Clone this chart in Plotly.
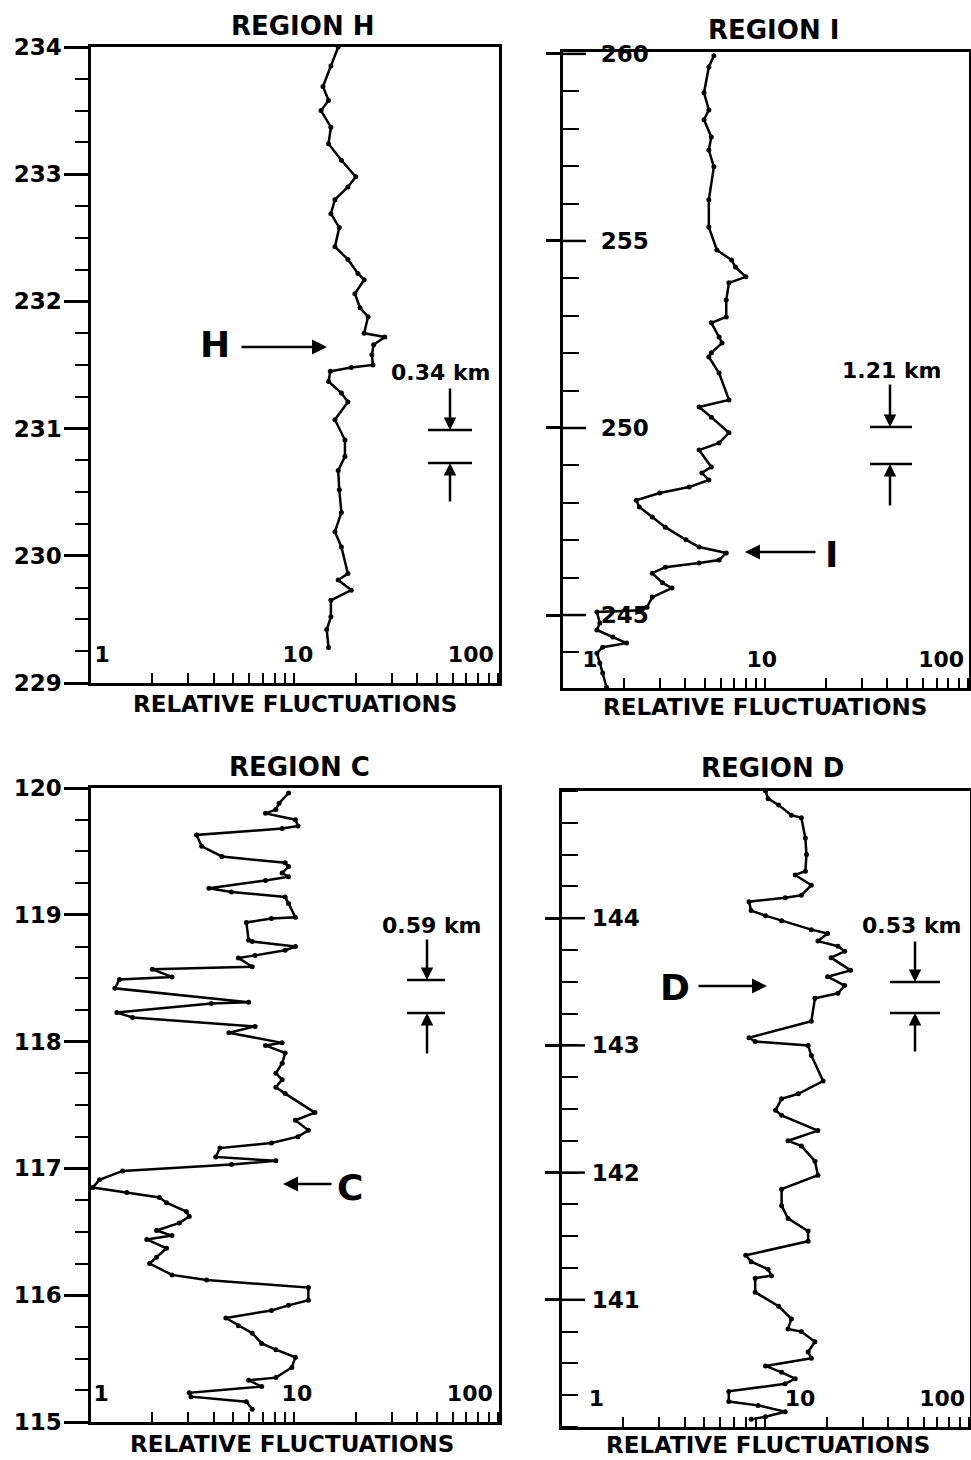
import plotly.graph_objects as go

# ---------------- data ----------------
h_depth = [234.00, 233.85, 233.69, 233.58, 233.50, 233.37, 233.24, 233.11, 232.98, 232.90,
           232.80, 232.69, 232.58, 232.43, 232.33, 232.22, 232.17, 232.06, 231.95, 231.88,
           231.75, 231.72, 231.66, 231.58, 231.50, 231.48, 231.45, 231.37, 231.28, 231.21,
           231.07, 230.91, 230.78, 230.67, 230.52, 230.34, 230.19, 230.07, 229.86, 229.81,
           229.73, 229.65, 229.52, 229.42, 229.28]
h_fluct = [16.4, 15.1, 13.8, 14.7, 13.5, 15.1, 14.7, 17.0, 20.0, 18.3,
           15.8, 15.1, 16.6, 15.8, 18.3, 20.5, 22.0, 19.8, 21.0, 23.0,
           22.0, 27.8, 24.5, 24.0, 24.3, 19.0, 15.0, 14.7, 17.0, 18.3,
           15.8, 17.7, 17.7, 16.4, 16.6, 17.0, 15.8, 17.0, 18.3, 16.4,
           19.0, 15.1, 15.1, 14.4, 14.7]

i_depth = [259.95, 259.65, 258.96, 258.50, 258.24, 257.78, 257.43, 256.98, 256.10, 255.37,
           254.76, 254.49, 254.30, 254.04, 253.88, 253.42, 252.97, 252.81, 252.43, 252.27,
           252.01, 251.90, 251.47, 250.75, 250.56, 250.29, 249.87, 249.60, 249.41, 248.96,
           248.80, 248.61, 248.42, 248.26, 248.07, 247.89, 247.62, 247.35, 247.01, 246.82,
           246.66, 246.47, 246.39, 246.28, 246.12, 245.86, 245.72, 245.48, 245.21, 245.13,
           245.08, 244.79, 244.60, 244.41, 244.25, 244.14, 243.98, 243.72, 243.45, 243.07]
i_fluct = [5.56, 5.25, 4.97, 5.25, 4.97, 5.40, 5.25, 5.56, 5.25, 5.25,
           5.75, 6.80, 7.10, 8.00, 6.60, 6.40, 6.40, 5.40, 5.90, 6.10,
           5.40, 5.25, 5.90, 6.60, 4.70, 5.40, 6.60, 5.90, 4.70, 5.40,
           4.85, 5.25, 4.20, 3.00, 2.30, 2.38, 2.76, 3.20, 4.05, 4.70,
           6.40, 5.90, 4.70, 3.20, 2.76, 3.10, 3.45, 2.76, 2.60, 2.45,
           1.47, 1.52, 1.47, 1.76, 2.06, 1.57, 1.47, 1.52, 1.57, 1.64]

c_depth = [119.96, 119.88, 119.83, 119.80, 119.75, 119.70, 119.68, 119.63, 119.54, 119.46,
           119.41, 119.38, 119.33, 119.30, 119.27, 119.21, 119.18, 119.14, 119.09, 118.98,
           118.97, 118.94, 118.80, 118.79, 118.75, 118.72, 118.68, 118.66, 118.59, 118.57,
           118.51, 118.49, 118.42, 118.31, 118.30, 118.23, 118.19, 118.12, 118.07, 117.99,
           117.97, 117.91, 117.83, 117.75, 117.70, 117.64, 117.59, 117.44, 117.38, 117.30,
           117.25, 117.20, 117.16, 117.09, 117.06, 117.03, 116.98, 116.91, 116.85, 116.81,
           116.77, 116.73, 116.66, 116.62, 116.57, 116.51, 116.47, 116.44, 116.37, 116.30,
           116.25, 116.16, 116.12, 116.06, 115.96, 115.92, 115.88, 115.82, 115.76, 115.70,
           115.62, 115.57, 115.51, 115.43, 115.35, 115.33, 115.28, 115.23, 115.20, 115.16,
           115.10]
c_fluct = [9.35, 8.4, 8.1, 7.2, 10.1, 10.4, 8.7, 3.3, 3.5, 4.4,
           9.0, 9.35, 8.7, 9.35, 7.2, 3.8, 4.9, 9.0, 9.35, 10.1,
           7.7, 5.8, 5.95, 6.2, 10.1, 9.0, 6.4, 5.3, 6.2, 2.0,
           2.5, 1.38, 1.31, 5.95, 3.9, 1.34, 1.6, 6.4, 4.76, 8.7,
           7.2, 9.0, 8.7, 8.1, 8.7, 8.1, 9.0, 12.6, 10.1, 11.7,
           10.4, 7.7, 4.3, 4.1, 8.1, 4.9, 1.43, 1.1, 1.02, 1.5,
           2.17, 2.35, 2.94, 3.04, 2.72, 2.1, 2.5, 1.88, 2.35, 2.1,
           1.94, 2.5, 3.7, 11.7, 11.7, 9.35, 7.7, 4.6, 5.3, 6.2,
           6.9, 8.1, 10.1, 9.7, 8.1, 5.95, 6.9, 3.04, 3.1, 5.8,
           6.2]

d_depth = [145.00, 144.94, 144.89, 144.81, 144.79, 144.63, 144.50, 144.37, 144.34, 144.26,
           144.18, 144.16, 144.13, 144.06, 144.02, 143.98, 143.91, 143.88, 143.82, 143.78,
           143.74, 143.69, 143.59, 143.54, 143.47, 143.41, 143.37, 143.19, 143.06, 143.03,
           143.00, 142.92, 142.72, 142.62, 142.58, 142.49, 142.45, 142.33, 142.25, 142.21,
           142.09, 141.98, 141.87, 141.74, 141.64, 141.54, 141.46, 141.35, 141.30, 141.24,
           141.19, 141.17, 141.06, 140.95, 140.85, 140.77, 140.75, 140.67, 140.59, 140.54,
           140.48, 140.43, 140.38, 140.34, 140.28, 140.20, 140.17, 140.12, 140.08, 140.06]
d_fluct = [10.0, 10.3, 11.6, 13.4, 15.0, 15.7, 15.9, 15.7, 14.0, 16.8,
           15.0, 12.5, 8.3, 8.5, 10.0, 12.0, 16.8, 20.2, 18.1, 22.7,
           24.5, 21.0, 26.2, 20.2, 24.5, 22.7, 17.5, 16.8, 8.3, 8.9,
           16.2, 16.8, 19.2, 14.5, 12.0, 11.2, 12.0, 18.1, 12.9, 15.0,
           17.5, 18.1, 12.0, 12.0, 12.9, 16.2, 16.2, 8.0, 8.5, 10.3,
           10.7, 8.9, 8.9, 11.6, 13.4, 12.9, 15.0, 17.5, 16.2, 16.8,
           10.0, 12.0, 14.0, 12.5, 6.6, 6.6, 9.2, 12.5, 10.0, 8.5]

x_tickvals = [1, 2, 3, 4, 5, 6, 7, 8, 9, 10, 20, 30, 40, 50, 60, 70, 80, 90, 100]
x_labels = {1: "1", 10: "10", 100: "100"}
i_major = [245, 250, 255, 260]
d_major = [141, 142, 143, 144]

region_titles = ["REGION H", "REGION I", "REGION C", "REGION D"]
scale_texts = ["0.34 km", "1.21 km", "0.59 km", "0.53 km"]
marker_letters = ["H", "I", "C", "D"]
x_title = "RELATIVE FLUCTUATIONS"

# ---------------- layout helpers ----------------
W, HH = 971, 1460
NB = "\u00a0"
FONT = "DejaVu Sans"


def fx(p):
    return p / W


def fy(p):
    return 1 - p / HH


def tick_text(lead, trail):
    # lead/trail: non-breaking-space padding for the labels 1, 10, 100
    out = []
    for v in x_tickvals:
        if v in x_labels:
            k = {1: 0, 10: 1, 100: 2}[v]
            out.append(NB * lead[k] + x_labels[v] + NB * trail[k])
        else:
            out.append("")
    return out


def xaxis(dom, anchor, ttext, pos, shift):
    return dict(
        type="log", range=[0, 2.005], domain=[fx(dom[0]), fx(dom[1])], anchor=anchor,
        showline=True, linewidth=2.5, linecolor="black", mirror=True,
        ticks="inside", ticklen=10, tickwidth=2, tickcolor="black",
        tickmode="array", tickvals=x_tickvals, ticktext=ttext,
        ticklabelposition=pos, ticklabelstandoff=-50, ticklabelshift=shift,
        ticklabeloverflow="allow",
        tickfont=dict(family=FONT, size=22, color="black", weight="bold"),
        showgrid=False, zeroline=False, automargin=False,
    )


yfont = dict(family=FONT, size=23, color="black", weight="bold")


def left_axis(rng, dom, anchor, t0):
    return dict(
        range=rng, domain=[fy(dom[1]), fy(dom[0])], anchor=anchor,
        showline=True, linewidth=2.5, linecolor="black", mirror=True,
        tickmode="linear", tick0=t0, dtick=1, ticks="outside", ticklen=24,
        tickwidth=2.5, tickcolor="black", tickfont=yfont, ticklabelstandoff=-2,
        minor=dict(dtick=0.25, tick0=t0, ticks="outside", ticklen=13, tickwidth=2,
                   tickcolor="black", showgrid=False),
        showgrid=False, zeroline=False, automargin=False)


def cross_axis(rng, dom, anchor, tv, mdt, standoff):
    return dict(
        range=rng, domain=[fy(dom[1]), fy(dom[0])], anchor=anchor,
        showline=True, linewidth=2.5, linecolor="black", mirror=True,
        tickmode="array", tickvals=tv, ticks="outside", ticklen=14,
        tickwidth=2.5, tickcolor="black", tickfont=yfont, ticklabelstandoff=standoff,
        minor=dict(dtick=mdt, tick0=0, ticks="inside", ticklen=16, tickwidth=2,
                   tickcolor="black", showgrid=False),
        showgrid=False, zeroline=False, automargin=False)


i_range = [243.05, 260.05]
d_range = [140, 145]

fig = go.Figure()
panels = [
    (h_fluct, h_depth, "x", "y"),
    (i_fluct, i_depth, "x2", "y2"),
    (c_fluct, c_depth, "x3", "y3"),
    (d_fluct, d_depth, "x4", "y4"),
]
for xs, ys, xa, ya in panels:
    fig.add_trace(go.Scatter(
        x=xs, y=ys, xaxis=xa, yaxis=ya, mode="lines+markers",
        line=dict(color="black", width=2.5), marker=dict(size=5, color="black"),
        showlegend=False, hoverinfo="skip"))

layout = dict(
    template="none",
    width=W, height=HH, margin=dict(l=0, r=0, t=0, b=0, pad=0), autosize=False,
    paper_bgcolor="white", plot_bgcolor="white", showlegend=False,
    font=dict(family=FONT, color="black"),
    xaxis=xaxis((91, 499), "y", tick_text((0, 0, 0), (0, 0, 3)), "outside left", 21),
    xaxis2=xaxis((563, 969), "y2", tick_text((9, 4, 0), (0, 0, 0)), "outside right", -52),
    xaxis3=xaxis((91, 499), "y3", tick_text((0, 0, 0), (0, 0, 3)), "outside left", 20),
    xaxis4=xaxis((562, 970), "y4", tick_text((10, 9, 0), (0, 0, 0)), "outside right", -52),
    yaxis=left_axis([229, 234], (47, 683), "x", 229),
    yaxis3=left_axis([115, 120], (788, 1422), "x3", 115),
    yaxis2=cross_axis(i_range, (52, 688), "x2", i_major, 1, -107),
    yaxis4=cross_axis(d_range, (791, 1427), "x4", d_major, 0.25, -99),
)
fig.update_layout(**layout)

annotations = []
shapes = []

# inner half of the crossing major ticks (panels I and D), on the axes' own scales
for vals, xr, yr, width_px in [(i_major, "x2 domain", "y2", 406), (d_major, "x4 domain", "y4", 408)]:
    for v in vals:
        shapes.append(dict(type="line", xref=xr, yref=yr, x0=0, x1=23 / width_px, y0=v, y1=v,
                           line=dict(color="black", width=2.5)))

# panel titles
for txt, (cx, cy) in zip(region_titles, [(302, 26), (773, 30), (299, 767), (772, 768)]):
    annotations.append(dict(text=txt, x=fx(cx), y=fy(cy), xref="paper", yref="paper",
                            xanchor="center", yanchor="middle", showarrow=False,
                            font=dict(family=FONT, size=26, color="black", weight="bold")))

# x-axis titles
for (cx, cy) in [(295, 704), (765, 707), (292, 1444), (768, 1445)]:
    annotations.append(dict(text=x_title, x=fx(cx), y=fy(cy), xref="paper", yref="paper",
                            xanchor="center", yanchor="middle", showarrow=False,
                            font=dict(family=FONT, size=23, color="black", weight="bold")))

# letters with arrows
letter_pos = [(215, 344), (831, 554), (350, 1187), (675, 987)]
arrows = [((240, 347), (327, 347)), ((817, 552), (745, 552)),
          ((333, 1184), (283, 1184)), ((697, 986), (767, 986))]
for L, (lx, ly), (tail, tip) in zip(marker_letters, letter_pos, arrows):
    annotations.append(dict(text=L, x=fx(lx), y=fy(ly), xref="paper", yref="paper",
                            xanchor="center", yanchor="middle", showarrow=False,
                            font=dict(family=FONT, size=36, color="black", weight="bold")))
    annotations.append(dict(text="", x=fx(tip[0]), y=fy(tip[1]), xref="paper", yref="paper",
                            ax=tail[0] - tip[0], ay=tail[1] - tip[1], axref="pixel", ayref="pixel",
                            showarrow=True, arrowhead=2, arrowsize=1.2, arrowwidth=2.5,
                            arrowcolor="black"))

# scale bars
scale_specs = [
    ((441, 373), 450, 428, 472, 430, 463, 387, 503),
    ((892, 370), 890, 870, 912, 427, 464, 383, 507),
    ((432, 925), 427, 407, 445, 980, 1013, 938, 1055),
    ((912, 925), 915, 890, 940, 982, 1013, 940, 1053),
]
for txt, (tc, ax_x, lx0, lx1, yu, yl, ttop, tbot) in zip(scale_texts, scale_specs):
    annotations.append(dict(text=txt, x=fx(tc[0]), y=fy(tc[1]), xref="paper", yref="paper",
                            xanchor="center", yanchor="middle", showarrow=False,
                            font=dict(family=FONT, size=22, color="black", weight="bold")))
    for yy in (yu, yl):
        shapes.append(dict(type="line", xref="paper", yref="paper",
                           x0=fx(lx0), x1=fx(lx1), y0=fy(yy), y1=fy(yy),
                           line=dict(color="black", width=2.5)))
    annotations.append(dict(text="", x=fx(ax_x), y=fy(yu), xref="paper", yref="paper",
                            ax=0, ay=ttop - yu, axref="pixel", ayref="pixel",
                            showarrow=True, arrowhead=2, arrowsize=1.0, arrowwidth=2.5,
                            arrowcolor="black"))
    annotations.append(dict(text="", x=fx(ax_x), y=fy(yl), xref="paper", yref="paper",
                            ax=0, ay=tbot - yl, axref="pixel", ayref="pixel",
                            showarrow=True, arrowhead=2, arrowsize=1.0, arrowwidth=2.5,
                            arrowcolor="black"))

fig.update_layout(annotations=annotations, shapes=shapes)
fig.write_html("out.html")
